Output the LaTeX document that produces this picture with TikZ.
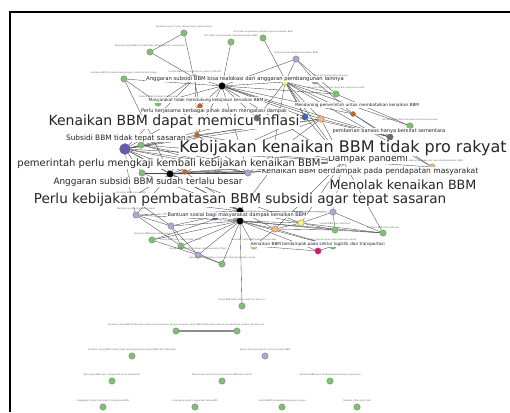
\documentclass[tikz,border=0pt]{standalone}
\usepackage{fontspec}
\setmainfont{DejaVu Sans}
\usetikzlibrary{positioning,backgrounds}

\pgfdeclarelayer{front}
\pgfsetlayers{background,main,front}

\definecolor{vgreen}{RGB}{122,196,112}
\definecolor{vlilac}{RGB}{180,164,212}
\definecolor{vyellow}{RGB}{250,244,120}
\definecolor{vpeach}{RGB}{250,182,122}
\definecolor{vrust}{RGB}{205,98,28}
\definecolor{vgray}{RGB}{105,105,105}
\definecolor{vblue}{RGB}{52,102,182}
\definecolor{vpink}{RGB}{228,18,118}
\definecolor{vindigo}{RGB}{96,90,176}

\tikzset{
  vtx/.style={circle, draw=black!55, line width=0.3pt, inner sep=0pt, minimum size=6.4pt, fill=vgreen},
  lilacv/.style={vtx, fill=vlilac},
  yellowv/.style={vtx, fill=vyellow},
  peachv/.style={vtx, fill=vpeach},
  rustv/.style={vtx, fill=vrust, minimum size=5pt},
  grayv/.style={vtx, fill=vgray},
  bluev/.style={vtx, fill=vblue},
  pinkv/.style={vtx, fill=vpink},
  hubv/.style={vtx, fill=black, minimum size=7pt},
  link/.style={draw=black!72, line width=0.35pt},
  tinylbl/.style={inner sep=0pt, text=black!60, font=\fontsize{2.2}{2.4}\selectfont},
  lbl/.style={fill=white, inner sep=0.5pt, text=black!85},
}

\begin{document}
\begin{tikzpicture}[x=1pt,y=-1pt]
\useasboundingbox (0,0) rectangle (510,412);
% frame
\draw[line width=1.3pt] (510,12) -- (10,12) -- (10,412);

% upper vertices
\node[vtx] (t1) at (184,33) {};
\node[vtx] (t2) at (263,38) {};
\node[vtx] (t3) at (231,42) {};
\node[vtx] (t4) at (150,52) {};
\node[lilacv] (t5) at (296,59) {};
\node[vtx] (t6) at (124,79) {};
\node[vtx] (t7) at (195,78) {};
\node[vtx] (t8) at (315,81) {};
\node[hubv] (hubA) at (222,86) {};
\node[yellowv] (yel) at (285,82) {};
\node[vtx] (t9) at (336,94) {};
\node[vtx] (g10) at (158,103) {};
\node[rustv] (o1) at (200,106) {};
\node[bluev] (bl1) at (305,117) {};
\node[peachv] (pe1) at (321,119) {};
\node[rustv] (o2) at (353,114) {};
\node[vtx] (g11) at (410,126) {};
\node[grayv] (gr2) at (390,137) {};
% these two sit over the labels
\begin{pgfonlayer}{front}
\node[grayv] (gr1) at (257,118) {};
\node[vtx, minimum size=11pt, fill=vindigo] (bigP) at (125,149) {};
\end{pgfonlayer}

% middle vertices
\node[vtx] (g12) at (141,145) {};
\node[rustv] (o3) at (197,135) {};
\node[hubv] (bk2) at (343,161) {};
\node[peachv] (pe2) at (432,167) {};
\node[pinkv] (pk1) at (270,171) {};
\node[lilacv] (pu2) at (248,173) {};
\node[vtx] (g13) at (142,173) {};
\node[rustv] (o4) at (185,172) {};
\node[hubv] (bk3) at (170,174) {};
\node[vtx] (g14) at (131,198) {};

% lower vertices
\node[lilacv] (pu3) at (136,215) {};
\node[hubv] (bk4) at (240,211) {};
\node[lilacv] (pu4) at (333,212) {};
\node[bluev] (bl2) at (215,217) {};
\node[vtx] (g15) at (236,217) {};
\node[hubv] (bk5) at (240,221) {};
\node[lilacv] (pu5) at (171,226) {};
\node[yellowv] (ye2) at (301,223) {};
\node[peachv] (or5) at (275,229) {};
\node[vtx] (g16) at (335,230) {};
\node[vtx] (g17) at (383,233) {};
\node[vtx] (g18) at (152,240) {};
\node[vtx] (g19) at (181,246) {};
\node[peachv] (pe3) at (254,246) {};
\node[vtx] (g20) at (333,246) {};
\node[pinkv] (pk2) at (318,251) {};
\node[lilacv] (pu6) at (198,255) {};
\node[vtx] (g21) at (222,264) {};
\node[vtx] (g22) at (242,306) {};

% loose vertices at the bottom
\node[vtx] (b1) at (176,331) {};
\node[vtx] (b2) at (237,331) {};
\node[vtx] (b3) at (132,356) {};
\node[lilacv] (b4) at (265,356) {};
\node[vtx] (b5) at (112,381) {};
\node[vtx] (b6) at (222,381) {};
\node[vtx] (b7) at (330,381) {};
\node[vtx] (b8) at (103,407) {};
\node[vtx] (b9) at (195,407) {};
\node[vtx] (b10) at (282,407) {};
\node[vtx] (b11) at (357,407) {};

% connectors
\begin{scope}[on background layer]
\foreach \a/\b in {t1/t4, t1/o1, t3/hubA, t2/bl1, t4/t7, t6/g10, t6/bk3, t7/o3, t7/g10, t7/bigP,
  t7/hubA, t5/hubA, t5/yel, t5/t8, t5/t9, t9/yel, t9/g11,
  hubA/yel, hubA/gr1, hubA/bl1, hubA/pe1, hubA/o2, hubA/o1, hubA/g10, hubA/bk2, hubA/t9,
  hubA/gr2, hubA/o3, hubA/pu2, hubA/t6,
  yel/bl1, yel/pe1, yel/gr1, yel/o2, yel/bk2, yel/pe2, yel/t8, yel/g11, yel/pk1,
  bl1/gr2, pe1/gr2, bl1/bk2, pe1/bk2, pe1/pu2, bl1/o4, o2/gr2, o2/pe2, t8/o2,
  bigP/g12, bigP/o3, bigP/bk3, bigP/o4, bigP/g13, bigP/bk2, bigP/pk1, bigP/pu2, bigP/gr1,
  bigP/bk4, bigP/bl1, bigP/pe1, bigP/o1, bigP/g14,
  bk3/o4, bk3/g13, bk3/pu2, bk3/pk1, bk3/bk2, bk3/bk4, bk3/g14, bk3/o3, bk3/pe1,
  o4/pu2, o4/pk1, o4/bk2, o3/bk2, o3/pe1, o3/pu2, o4/bk4, bk3/ye2,
  g12/bk2, g12/pk1, g12/pu2, g13/bk4, g13/pu2,
  bk2/pe2, bk2/pu4, bk2/g17, bk2/ye2, bk2/pk1, bk2/pu2, bk2/or5,
  bk4/bk5, bk4/bl2, bk4/g15, bk4/pu4, bk4/pu3, bk4/pu5, bk4/ye2, bk4/or5, bk4/g14, bk4/pk1,
  bk5/g15, bk5/bl2, bk5/pu5, bk5/g18, bk5/g19, bk5/pe3, bk5/g21, bk5/pu6, bk5/ye2, bk5/or5,
  bk5/g16, bk5/g20, bk5/pk2, bk5/g22, bk5/pu3, bk5/g17,
  pu3/pu5, pu3/g19, g14/pu5, g14/pu3, pu5/g19, pu5/pu6, g18/pu6, g19/g21, pu6/g21,
  ye2/g16, ye2/g17, ye2/or5, or5/g16, or5/pe3, or5/g20, pe3/pk2, g16/g17, g16/pu4,
  g20/pk2, pu4/g17, pu4/ye2, pe3/g20, pu3/bk3, g18/bk4}
  \draw[link] (\a) -- (\b);
\draw[draw=black!45, line width=1.2pt] (b1) -- (b2);
\end{scope}

% tiny labels
\node[tinylbl, above=1.2pt of t1] (t1-l) {Kenaikan bansos harus dikawal agar tepat sasaran};
\node[tinylbl, above=1.2pt of t2] (t2-l) {Perlu ada pengawasan kebijakan pasca kenaikan BBM};
\node[tinylbl, above=1.2pt of t3] (t3-l) {BLT tidak menyelesaikan dampak kenaikan BBM};
\node[tinylbl, above=1.2pt of t4] (t4-l) {Kenaikan harga BBM memberatkan beban ekonomi masyarakat};
\node[tinylbl, above=1.2pt of t5] (t5-l) {Setuju dengan kebijakan kenaikan BBM};
\node[tinylbl, above=1.2pt of t6] (t6-l) {Kenaikan BBM membuat kesenjangan sosial semakin tinggi};
\node[tinylbl, above=1.2pt of t7] (t7-l) {Subsidi BBM harus dialihkan ke sektor produktif};
\node[tinylbl, above right=1.2pt and -4pt of t8] (t8-l) {Daya beli masyarakat menurun};
\node[tinylbl, above=1.2pt of t9] (t9-l) {Kenaikan BBM di tengah daya beli yang belum pulih};
\node[tinylbl, above=1.2pt of g10] (g10-l) {Subsidi BBM dinikmati orang kaya};
\node[tinylbl, above=1.2pt of g11] (g11-l) {Kenaikan BBM diikuti kenaikan harga bahan pokok};
\node[tinylbl, above=1.2pt of pe2] (pe2-l) {Harga kebutuhan pokok ikut naik setelah kenaikan BBM};
\node[tinylbl, above=1.2pt of pu3] (pu3-l) {Kebijakan pemerintah sudah tepat};
\node[tinylbl, above=1.2pt of g14] (g14-l) {Kenaikan BBM untuk APBN};
\node[tinylbl, above=1.2pt of g18] (g18-l) {Kenaikan BBM perlu dikaji ulang};
\node[tinylbl, above=1.2pt of g19] (g19-l) {Harga BBM naik, rakyat makin susah};
\node[tinylbl, above=1.2pt of pu6] (pu6-l) {Harga BBM subsidi dinaikkan demi kesehatan fiskal};
\node[tinylbl, above=1.2pt of g21] (g21-l) {Masyarakat kecil paling merasakan dampak kenaikan harga};
\node[tinylbl, above=1.2pt of pe3] (pe3-l) {Kenaikan harga BBM bebani masyarakat};
\node[tinylbl, above=1.2pt of g20] (g20-l) {Akan ada kenaikan pada kebutuhan pokok};
\node[tinylbl, above=1.2pt of g16] (g16-l) {Subsidi BBM perlu dialihkan};
\node[tinylbl, above=1.2pt of g17] (g17-l) {Kenaikan BBM harus ditunda};
\node[tinylbl, above=1.2pt of g22] (g22-l) {Harga BBM tidak sesuai pada 2/3 tahun ini};
\node[tinylbl] (b1-l) at (186,325) {Kenaikan harga BBM berdampak pada harga komoditas pangan Kenaikan harga BBM berdampak pada harga kebutuhan pangan dan ekonomi};
\node[tinylbl, above=1.2pt of b3] (b3-l) {Kenaikan harga BBM subsidi tidak mengubah kuota subsidi BBM dan tidak pilah};
\node[tinylbl, above=1.2pt of b4] (b4-l) {Setuju dukungan Rendra untuk kenaikan BBM};
\node[tinylbl, above=1.2pt of b5] (b5-l) {Beli harga BBM naik, masyarakat harus membatasi};
\node[tinylbl, above=1.2pt of b6] (b6-l) {Masyarakat sudah terbiasa membeli BBM lebih mahal};
\node[tinylbl, above=1.2pt of b7] (b7-l) {Kenaikan BBM pasti berdampak kemiskinan penurunan};
\node[tinylbl, above=1.2pt of b8] (b8-l) {Kegagalan Pemerintah dalam mengelola APBN};
\node[tinylbl, above=1.2pt of b9] (b9-l) {Lanskapnya pasti masyarakat tetap BBM};
\node[tinylbl, above=1.2pt of b10] (b10-l) {Subsidi BBM membebani keuangan negara};
\node[tinylbl, above=1.2pt of b11] (b11-l) {Tekanan inflasi pasti naik};

% medium labels
\node[lbl, font=\fontsize{5.3}{6}\selectfont] (l8) at (245,79) {Anggaran subsidi BBM bisa realokasi dari anggaran pembangunan lainnya};
\node[lbl, font=\fontsize{4.2}{5}\selectfont] (l12) at (206,100) {Masyarakat tidak mendukung kebijakan kenaikan BBM};
\node[lbl, font=\fontsize{4.2}{5}\selectfont] (l14) at (357,105) {Mendorong pemerintah untuk membatalkan kenaikan BBM};
\node[lbl, font=\fontsize{5}{6}\selectfont] (l13) at (214,111) {Perlu kerjasama berbagai pihak dalam mengatasi dampak};
\node[lbl, font=\fontsize{5}{6}\selectfont] (l11) at (389,131) {pemberian bansos hanya bersifat sementara};
\node[lbl, font=\fontsize{5}{6}\selectfont] (l15) at (237,215) {Bantuan sosial bagi masyarakat dampak kenaikan BBM};
\node[lbl, font=\fontsize{4.2}{5}\selectfont] (l16) at (318,244) {Kenaikan BBM berdampak pada sektor logistik dan transportasi};
\node[lbl, font=\fontsize{9}{10}\selectfont] (l10) at (368,159) {Dampak pandemi};
\node[lbl, font=\fontsize{7.6}{9}\selectfont] (l9) at (370,171) {Kenaikan BBM berdampak pada pendapatan masyarakat};

% big labels
\node[lbl, font=\fontsize{7.4}{9}\selectfont] (l7) at (126,138) {Subsidi BBM tidak tepat sasaran};
\node[lbl, font=\fontsize{14}{16}\selectfont] (l1) at (174,122) {Kenaikan BBM dapat memicu inflasi};
\node[lbl, font=\fontsize{8.9}{10}\selectfont] (l6) at (148,182) {Anggaran subsidi BBM sudah terlalu besar};
\node[lbl, font=\fontsize{10}{12}\selectfont] (l5) at (169,164) {pemerintah perlu mengkaji kembali kebijakan kenaikan BBM};
\node[lbl, font=\fontsize{16}{18}\selectfont] (l2) at (343,148) {Kebijakan kenaikan BBM tidak pro rakyat};
\node[lbl, font=\fontsize{12.7}{14}\selectfont] (l4) at (403,185) {Menolak kenaikan BBM};
\node[lbl, font=\fontsize{13.6}{15}\selectfont] (l3) at (240,200) {Perlu kebijakan pembatasan BBM subsidi agar tepat sasaran};
\end{tikzpicture}
\end{document}
